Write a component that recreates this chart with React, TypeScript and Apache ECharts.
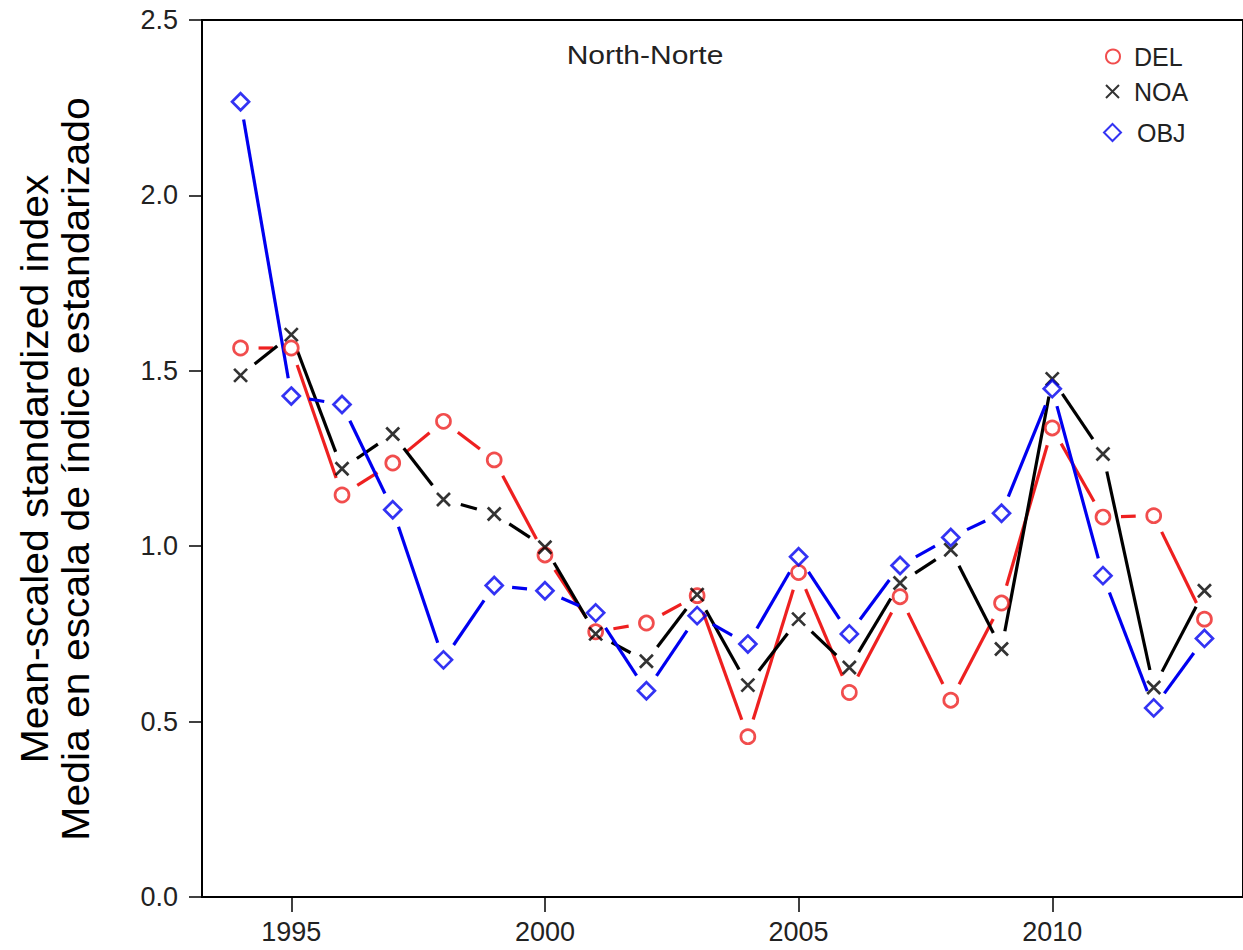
import React, { useEffect, useRef } from "react";
import * as echarts from "echarts";

const years = [1994, 1995, 1996, 1997, 1998, 1999, 2000, 2001, 2002, 2003, 2004, 2005, 2006, 2007, 2008, 2009, 2010, 2011, 2012, 2013];
const DEL = [1.565, 1.565, 1.146, 1.237, 1.356, 1.246, 0.975, 0.756, 0.781, 0.859, 0.457, 0.925, 0.583, 0.856, 0.561, 0.838, 1.337, 1.083, 1.087, 0.792];
const NOA = [1.487, 1.603, 1.221, 1.32, 1.133, 1.092, 0.997, 0.75, 0.672, 0.862, 0.604, 0.792, 0.654, 0.895, 0.99, 0.707, 1.477, 1.263, 0.597, 0.873];
const OBJ = [2.267, 1.428, 1.404, 1.104, 0.676, 0.888, 0.873, 0.81, 0.588, 0.802, 0.721, 0.97, 0.75, 0.945, 1.025, 1.094, 1.449, 0.916, 0.539, 0.737];
const xTicks = [1995, 2000, 2005, 2010];
const titleText = "North-Norte";
const yTitle1 = "Mean-scaled standardized index";
const yTitle2 = "Media en escala de índice estandarizado";

const RED = "#ee2020";
const BLACK = "#000000";
const BLUE = "#0000f0";
const FONT = "'Liberation Sans', Arial, sans-serif";
const XSYM = "path://M0,0L10,10M10,0L0,10";

function segments(vals: number[]) {
  const out: number[][] = [];
  for (let i = 0; i < vals.length - 1; i++) {
    out.push([years[i], vals[i], years[i + 1], vals[i + 1]]);
  }
  return out;
}

function lineSeries(name: string, vals: number[], color: string) {
  return {
    type: "custom",
    name: name + "-line",
    data: segments(vals),
    encode: { x: [0, 2], y: [1, 3] },
    silent: true,
    z: 1,
    renderItem: (params: any, api: any) => {
      const p0 = api.coord([api.value(0), api.value(1)]);
      const p1 = api.coord([api.value(2), api.value(3)]);
      const dx = p1[0] - p0[0];
      const dy = p1[1] - p0[1];
      const L = Math.hypot(dx, dy);
      const g = 18;
      if (L <= 2 * g) return { type: "group", children: [] };
      const ux = dx / L;
      const uy = dy / L;
      return {
        type: "line",
        shape: { x1: p0[0] + ux * g, y1: p0[1] + uy * g, x2: p1[0] - ux * g, y2: p1[1] - uy * g },
        style: { stroke: color, lineWidth: 3.2, lineCap: "butt" },
      };
    },
  };
}

function pointSeries(name: string, vals: number[], color: string, symbol: string, size: number) {
  return {
    type: "scatter",
    name,
    data: years.map((y, i) => [y, vals[i]]),
    symbol,
    symbolSize: size,
    z: 3,
    itemStyle: { color: "rgba(0,0,0,0)", borderColor: color, borderWidth: 2.7 },
  };
}

function legendFor(name: string, left: number, top: number, size: number, pad: number) {
  return {
    data: [name],
    left,
    top,
    padding: 0,
    itemWidth: size,
    itemHeight: size,
    selectedMode: false,
    textStyle: { fontFamily: FONT, fontSize: 25, color: "#222", padding: [0, 0, 0, pad] },
  };
}

export default function App() {
  const ref = useRef<HTMLDivElement>(null);
  useEffect(() => {
    if (!ref.current) return;
    const chart = echarts.init(ref.current, undefined, { renderer: "svg" });
    chart.setOption({
      animation: false,
      backgroundColor: "#ffffff",
      grid: { left: 202, right: -15, top: 20, bottom: 53, show: true, borderColor: "#000", borderWidth: 2, backgroundColor: "transparent" },
      legend: [legendFor("DEL", 1105, 44, 14, 9), legendFor("NOA", 1105, 79, 13, 10), legendFor("OBJ", 1103, 120, 17, 11)],
      xAxis: {
        type: "value",
        min: 1993.24,
        max: 2013.76,
        axisLine: { show: true, lineStyle: { color: "#000", width: 2 } },
        axisTick: { show: true, customValues: xTicks, length: 15, lineStyle: { color: "#000", width: 1.5 } },
        axisLabel: { customValues: xTicks, margin: 21, fontFamily: FONT, fontSize: 27, color: "#222", formatter: (v: number) => String(v) },
        splitLine: { show: false },
      },
      yAxis: {
        type: "value",
        min: 0,
        max: 2.5,
        interval: 0.5,
        axisLine: { show: true, lineStyle: { color: "#000", width: 2 } },
        axisTick: { show: true, length: 13, lineStyle: { color: "#000", width: 1.5 } },
        axisLabel: { margin: 24, fontFamily: FONT, fontSize: 27, color: "#222", formatter: (v: number) => v.toFixed(1) },
        splitLine: { show: false },
      },
      graphic: [
        {
          type: "text",
          x: 645,
          y: 55,
          scaleX: 1.2,
          style: { text: titleText, fontFamily: FONT, fontSize: 25, fill: "#222", textAlign: "center", textVerticalAlign: "middle" },
        },
        {
          type: "text",
          x: 55,
          y: 469,
          rotation: Math.PI / 2,
          scaleX: 1.076,
          style: {
            text: yTitle1 + "\n" + yTitle2,
            fontFamily: FONT,
            fontSize: 38,
            lineHeight: 41,
            fill: "#000",
            textAlign: "center",
            textVerticalAlign: "middle",
          },
        },
      ],
      series: [
        lineSeries("DEL", DEL, RED),
        lineSeries("NOA", NOA, BLACK),
        lineSeries("OBJ", OBJ, BLUE),
        pointSeries("DEL", DEL, RED, "circle", 14),
        pointSeries("NOA", NOA, BLACK, XSYM, 13),
        pointSeries("OBJ", OBJ, BLUE, "diamond", 17),
      ],
    });
    return () => chart.dispose();
  }, []);
  return <div ref={ref} style={{ position: "absolute", left: 0, top: 0, width: 1243, height: 950 }} />;
}
